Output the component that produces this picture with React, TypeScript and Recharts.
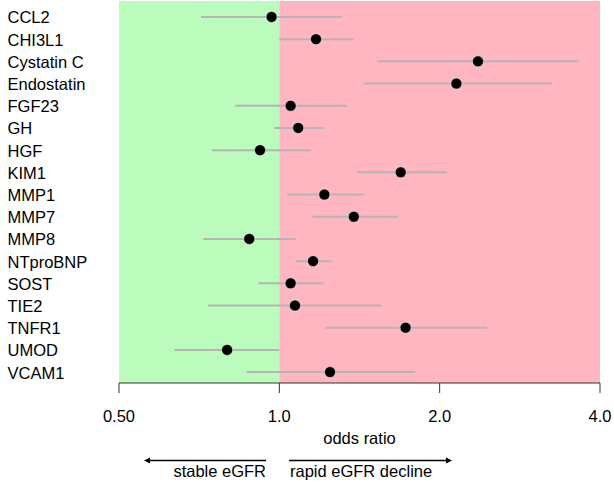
import {
  ComposedChart,
  Scatter,
  ErrorBar,
  XAxis,
  YAxis,
  ReferenceArea,
} from "recharts";

const markers = [
  "CCL2", "CHI3L1", "Cystatin C", "Endostatin", "FGF23", "GH", "HGF", "KIM1",
  "MMP1", "MMP7", "MMP8", "NTproBNP", "SOST", "TIE2", "TNFR1", "UMOD", "VCAM1",
];
const oddsRatio = [
  0.967, 1.172, 2.36, 2.15, 1.05, 1.085, 0.92, 1.69,
  1.215, 1.38, 0.878, 1.157, 1.05, 1.07, 1.726, 0.798, 1.245,
];
const ciLower = [
  0.713, 1.0, 1.53, 1.44, 0.826, 0.979, 0.747, 1.4,
  1.034, 1.155, 0.72, 1.073, 0.914, 0.735, 1.22, 0.635, 0.868,
];
const ciUpper = [
  1.312, 1.38, 3.65, 3.25, 1.34, 1.21, 1.144, 2.06,
  1.44, 1.67, 1.073, 1.254, 1.21, 1.558, 2.455, 1.0, 1.8,
];
const xTicks = [0.5, 1, 2, 4];

const data = markers.map((name, i) => ({
  name,
  row: i,
  or: oddsRatio[i],
  err: [oddsRatio[i] - ciLower[i], ciUpper[i] - oddsRatio[i]],
}));

const FS = 16.5;

function MarkerTick({ y, payload }: any) {
  return (
    <text x={7.5} y={y + 6.5} fontSize={FS} fill="#000" textAnchor="start">
      {markers[payload.value]}
    </text>
  );
}

function Dot({ cx, cy }: any) {
  return <circle cx={cx} cy={cy} r={5.5} fill="#000" stroke="#fff" strokeWidth={0.5} />;
}

export default function App() {
  return (
    <div
      style={{
        position: "absolute",
        left: 0,
        top: 0,
        width: 614,
        height: 485,
        background: "#fff",
        fontFamily: "'Liberation Sans', Arial, sans-serif",
      }}
    >
      <ComposedChart
        width={614}
        height={485}
        data={data}
        layout="vertical"
        margin={{ top: 1, right: 14, bottom: 62, left: 0 }}
      >
        <XAxis
          type="number"
          dataKey="or"
          scale="log"
          domain={[0.5, 4]}
          allowDataOverflow
          ticks={xTicks}
          interval={0}
          tickFormatter={(v: number) => (v < 1 ? v.toFixed(2) : v.toFixed(1))}
          tick={{ fontSize: FS, fill: "#000" }}
          tickSize={10}
          tickMargin={17}
          stroke="#333"
          height={40}
          label={{ value: "odds ratio", position: "bottom", offset: 9, fontSize: FS, fill: "#000" }}
        />
        <YAxis
          type="number"
          dataKey="row"
          domain={[-0.72, 16.49]}
          allowDataOverflow
          ticks={markers.map((_, i) => i)}
          interval={0}
          tick={<MarkerTick />}
          axisLine={false}
          tickLine={false}
          width={119}
        />
        <ReferenceArea x1={0.5} x2={1} fill="#bbfbbb" fillOpacity={1} stroke="none" ifOverflow="extendDomain" />
        <ReferenceArea x1={1} x2={4} fill="#ffb6c1" fillOpacity={1} stroke="none" ifOverflow="extendDomain" />
        <Scatter dataKey="or" shape={<Dot />} isAnimationActive={false}>
          <ErrorBar dataKey="err" direction="x" width={0} stroke="#b5b5b5" strokeWidth={2} />
        </Scatter>
      </ComposedChart>
      <svg
        width={614}
        height={485}
        style={{ position: "absolute", left: 0, top: 0, pointerEvents: "none" }}
      >
        <line x1={266} y1={460.5} x2={148} y2={460.5} stroke="#000" strokeWidth={1.5} />
        <path d="M144,460.5 L150,457.5 L150,463.5 Z" fill="#000" />
        <line x1={289} y1={460.5} x2={448} y2={460.5} stroke="#000" strokeWidth={1.5} />
        <path d="M452,460.5 L446,457.5 L446,463.5 Z" fill="#000" />
        <text x={266} y={476.5} fontSize={FS} textAnchor="end" fill="#000">
          stable eGFR
        </text>
        <text x={290} y={476.5} fontSize={FS} textAnchor="start" fill="#000">
          rapid eGFR decline
        </text>
      </svg>
    </div>
  );
}
